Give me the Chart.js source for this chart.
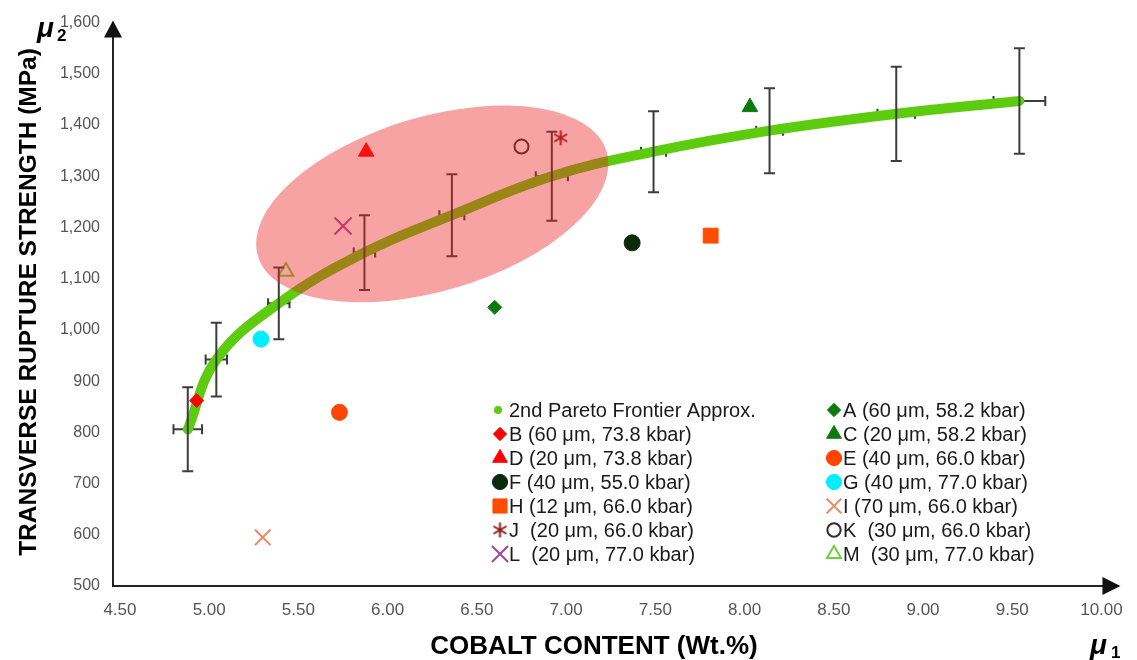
<!DOCTYPE html>
<html>
<head>
<meta charset="utf-8">
<script src="https://cdn.jsdelivr.net/npm/chart.js@4.4.1/dist/chart.umd.min.js"></script>
<style>
  html, body { margin: 0; padding: 0; background: #fff; }
  #wrap { width: 1137px; height: 660px; position: relative; }
</style>
</head>
<body>
<div id="wrap"><canvas id="frontier"></canvas></div>
<script>
// 2nd pareto frontier approximation (cobalt wt.% vs. rupture strength) with std. deviations
var frontierX    = [4.88, 5.04, 5.39, 5.87, 6.36, 6.92, 7.49, 8.14, 8.85, 9.54];
var frontierY    = [806, 942, 1052, 1151, 1224, 1300, 1348, 1389, 1422, 1447];
var frontierErrX = [0.08, 0.06, 0.06, 0.06, 0.07, 0.09, 0.07, 0.075, 0.105, 0.145];
var frontierErrY = [82, 72, 70, 73, 80, 87, 79, 83, 92, 103];

// single samples, labelled by grain size and pressure
var sampleLabels = [
  "A (60 μm, 58.2 kbar)", "B (60 μm, 73.8 kbar)", "C (20 μm, 58.2 kbar)",
  "D (20 μm, 73.8 kbar)", "E (40 μm, 66.0 kbar)", "F (40 μm, 55.0 kbar)",
  "G (40 μm, 77.0 kbar)", "H (12 μm, 66.0 kbar)", "I (70 μm, 66.0 kbar)",
  "J  (20 μm, 66.0 kbar)", "K  (30 μm, 66.0 kbar)", "L  (20 μm, 77.0 kbar)",
  "M  (30 μm, 77.0 kbar)"
];
var sampleX = [6.60, 4.93, 8.03, 5.88, 5.73, 7.37, 5.29, 7.81, 5.30, 6.97, 6.75, 5.75, 5.43];
var sampleY = [1044, 862, 1435, 1348, 839, 1170, 982, 1184, 595, 1375, 1358, 1203, 1114];

var xTicks = [4.5, 5.0, 5.5, 6.0, 6.5, 7.0, 7.5, 8.0, 8.5, 9.0, 9.5, 10.0];
var yTicks = [500, 600, 700, 800, 900, 1000, 1100, 1200, 1300, 1400, 1500, 1600];

var FONT = "'Liberation Sans', Arial, sans-serif";

// six-armed asterisk used for sample J
function asterisk(color, size) {
  var c = document.createElement('canvas');
  c.width = size; c.height = size;
  var g = c.getContext('2d');
  var r = size / 2 - 1, m = size / 2;
  g.strokeStyle = color;
  g.lineWidth = 2;
  g.beginPath();
  for (var k = 0; k < 3; k++) {
    var a = Math.PI / 2 + k * Math.PI / 3;
    g.moveTo(m + Math.cos(a) * r, m + Math.sin(a) * r);
    g.lineTo(m - Math.cos(a) * r, m - Math.sin(a) * r);
  }
  g.stroke();
  return c;
}

var markers = [
  { style: 'rectRot',  radius: 7,   fill: '#0d7a0d', stroke: '#0d7a0d', width: 1 },
  { style: 'rectRot',  radius: 7,   fill: '#ff0000', stroke: '#ff0000', width: 1 },
  { style: 'triangle', radius: 9,   fill: '#0d7a0d', stroke: '#0d7a0d', width: 1 },
  { style: 'triangle', radius: 9,   fill: '#ff0000', stroke: '#ff0000', width: 1 },
  { style: 'circle',   radius: 8,   fill: '#ff4500', stroke: '#ff4500', width: 1 },
  { style: 'circle',   radius: 8,   fill: '#0b2a0b', stroke: '#0b2a0b', width: 1 },
  { style: 'circle',   radius: 8,   fill: '#00eeff', stroke: '#00eeff', width: 1 },
  { style: 'rect',     radius: 10.5, fill: '#ff4d00', stroke: '#ff4d00', width: 1 },
  { style: 'crossRot', radius: 11,  fill: 'rgba(0,0,0,0)', stroke: '#f4845f', width: 2 },
  { style: asterisk('#8b1a1a', 17), radius: 8, fill: '#8b1a1a', stroke: '#8b1a1a', width: 1 },
  { style: 'circle',   radius: 7,   fill: 'rgba(0,0,0,0)', stroke: '#3a2a2a', width: 2 },
  { style: 'crossRot', radius: 12,  fill: 'rgba(0,0,0,0)', stroke: '#a3479b', width: 2 },
  { style: 'triangle', radius: 8.5, fill: 'rgba(0,0,0,0)', stroke: '#6fcf3f', width: 2 }
];

var datasets = [{
  label: '2nd Pareto Frontier Approx.',
  data: frontierX.map(function (v, i) { return { x: v, y: frontierY[i] }; }),
  showLine: true,
  borderColor: '#5dcc0f',
  backgroundColor: '#5dcc0f',
  borderWidth: 10,
  borderCapStyle: 'round',
  tension: 0.4,
  pointRadius: 0,
  order: 1,
  legendDot: 4
}];
sampleLabels.forEach(function (name, i) {
  var m = markers[i];
  datasets.push({
    label: name,
    data: [{ x: sampleX[i], y: sampleY[i] }],
    showLine: false,
    pointStyle: m.style,
    pointRadius: m.radius,
    pointBackgroundColor: m.fill,
    pointBorderColor: m.stroke,
    pointBorderWidth: m.width,
    backgroundColor: m.fill,
    borderColor: m.stroke,
    order: 0
  });
});

var barColor = '#3c3c3c';

// horizontal bars go under the frontier line, vertical ones over it,
// and the translucent highlight covers the middle part of the front
var errorBars = {
  id: 'errorBars',
  beforeDatasetsDraw: function (chart) {
    var ctx = chart.ctx, sx = chart.scales.x, sy = chart.scales.y;
    ctx.save();
    ctx.strokeStyle = barColor;
    ctx.lineWidth = 2;
    frontierX.forEach(function (v, i) {
      var py = sy.getPixelForValue(frontierY[i]);
      var x0 = sx.getPixelForValue(v - frontierErrX[i]);
      var x1 = sx.getPixelForValue(v + frontierErrX[i]);
      ctx.beginPath();
      ctx.moveTo(x0, py); ctx.lineTo(x1, py);
      ctx.moveTo(x0, py - 5); ctx.lineTo(x0, py + 5);
      ctx.moveTo(x1, py - 5); ctx.lineTo(x1, py + 5);
      ctx.stroke();
    });
    ctx.restore();
  },
  afterDatasetsDraw: function (chart) {
    var ctx = chart.ctx, sx = chart.scales.x, sy = chart.scales.y;
    ctx.save();
    ctx.strokeStyle = barColor;
    ctx.lineWidth = 2;
    frontierX.forEach(function (v, i) {
      var px = sx.getPixelForValue(v);
      var y0 = sy.getPixelForValue(frontierY[i] - frontierErrY[i]);
      var y1 = sy.getPixelForValue(frontierY[i] + frontierErrY[i]);
      ctx.beginPath();
      ctx.moveTo(px, y0); ctx.lineTo(px, y1);
      ctx.moveTo(px - 5.5, y0); ctx.lineTo(px + 5.5, y0);
      ctx.moveTo(px - 5.5, y1); ctx.lineTo(px + 5.5, y1);
      ctx.stroke();
    });
    // highlighted region
    var cx = sx.getPixelForValue(6.25), cy = sy.getPixelForValue(1246);
    ctx.fillStyle = 'rgba(238, 35, 35, 0.42)';
    ctx.beginPath();
    ctx.ellipse(cx, cy, 182, 87, -16.7 * Math.PI / 180, 0, Math.PI * 2);
    ctx.fill();
    ctx.restore();
  }
};

// two-column legend, axis arrows, axis titles
var decor = {
  id: 'decor',
  afterDraw: function (chart) {
    var ctx = chart.ctx, area = chart.chartArea;
    ctx.save();

    // arrow heads
    ctx.fillStyle = '#111';
    ctx.beginPath();
    ctx.moveTo(area.left, area.top - 2);
    ctx.lineTo(area.left - 9, area.top + 15);
    ctx.lineTo(area.left + 9, area.top + 15);
    ctx.closePath();
    ctx.fill();
    ctx.beginPath();
    ctx.moveTo(area.right + 2, area.bottom);
    ctx.lineTo(area.right - 16, area.bottom - 9);
    ctx.lineTo(area.right - 16, area.bottom + 9);
    ctx.closePath();
    ctx.fill();

    // legend
    var cols = [500, 834], top = 410, rowH = 24;
    ctx.font = '20px ' + FONT;
    ctx.textBaseline = 'middle';
    ctx.textAlign = 'left';
    chart.data.datasets.forEach(function (ds, i) {
      var x = cols[i % 2], y = top + Math.floor(i / 2) * rowH;
      ctx.save();
      if (ds.legendDot) {
        ctx.fillStyle = ds.borderColor;
        ctx.beginPath();
        ctx.arc(x - 2, y, ds.legendDot, 0, Math.PI * 2);
        ctx.fill();
      } else {
        ctx.fillStyle = ds.pointBackgroundColor;
        ctx.strokeStyle = ds.pointBorderColor;
        ctx.lineWidth = ds.pointBorderWidth;
        Chart.helpers.drawPoint(ctx, {
          pointStyle: ds.pointStyle,
          radius: ds.pointRadius * 0.95,
          rotation: 0,
          borderWidth: ds.pointBorderWidth
        }, x, y);
      }
      ctx.restore();
      ctx.fillStyle = '#1a1a1a';
      ctx.fillText(ds.label, x + 9, y + 1);
    });

    // axis titles
    ctx.fillStyle = '#000';
    ctx.font = 'bold 24.5px ' + FONT;
    ctx.textAlign = 'center';
    ctx.save();
    ctx.translate(29, 302);
    ctx.rotate(-Math.PI / 2);
    ctx.fillText('TRANSVERSE RUPTURE STRENGTH (MPa)', 0, 0);
    ctx.restore();
    ctx.font = 'bold 26px ' + FONT;
    ctx.fillText('COBALT CONTENT (Wt.%)', 594, 647);

    // objective symbols
    ctx.textAlign = 'left';
    ctx.font = 'italic bold 28px ' + FONT;
    ctx.fillText('μ', 37, 29);
    ctx.fillText('μ', 1090, 646);
    ctx.font = 'bold 17px ' + FONT;
    ctx.fillText('2', 57, 36);
    ctx.fillText('1', 1111, 653);
    ctx.restore();
  }
};

new Chart(document.getElementById('frontier'), {
  type: 'scatter',
  data: { datasets: datasets },
  options: {
    responsive: true,
    maintainAspectRatio: false,
    animation: false,
    layout: { padding: { top: 16, right: 15, left: 0, bottom: 0 } },
    plugins: { legend: { display: false }, tooltip: { enabled: false } },
    scales: {
      x: {
        type: 'linear',
        min: 4.461,
        max: 10.095,
        grid: { display: false, drawTicks: false },
        border: { display: true, color: '#222', width: 2 },
        afterBuildTicks: function (scale) {
          scale.ticks = xTicks.map(function (v) { return { value: v }; });
        },
        afterFit: function (scale) { scale.height = 74; },
        ticks: {
          autoSkip: false,
          maxRotation: 0,
          padding: 14,
          color: '#555',
          font: { family: FONT, size: 17 },
          callback: function (v) { return Number(v).toFixed(2); }
        }
      },
      y: {
        type: 'linear',
        min: 500,
        max: 1600,
        grid: { display: false, drawTicks: false },
        border: { display: true, color: '#222', width: 2 },
        afterBuildTicks: function (scale) {
          scale.ticks = yTicks.map(function (v) { return { value: v }; });
        },
        afterFit: function (scale) { scale.width = 113; },
        ticks: {
          padding: 13,
          color: '#555',
          font: { family: FONT, size: 16 },
          callback: function (v) { return Number(v).toLocaleString('en-US'); }
        }
      }
    }
  },
  plugins: [errorBars, decor]
});
</script>
</body>
</html>
